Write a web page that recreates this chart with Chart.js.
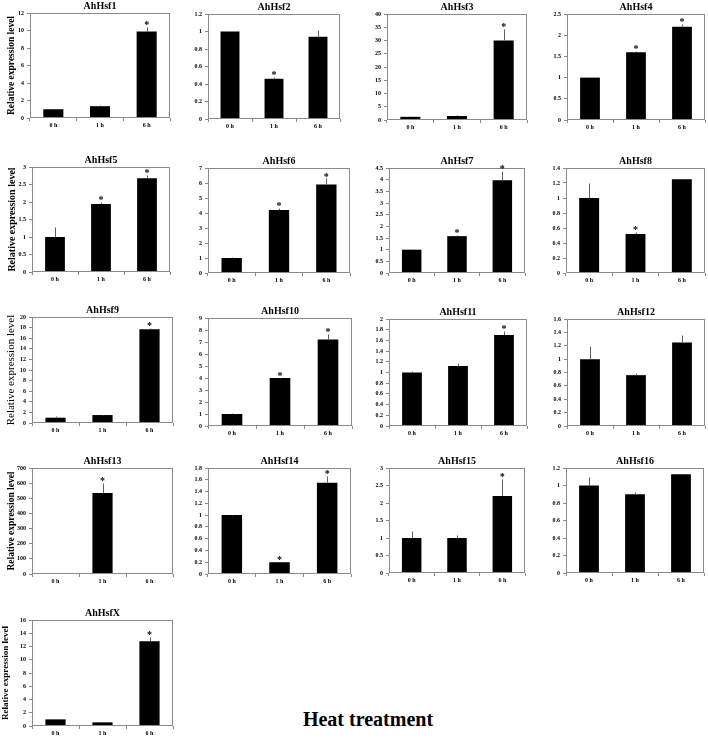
<!DOCTYPE html>
<html><head><meta charset="utf-8">
<script src="https://cdn.jsdelivr.net/npm/chart.js@4/dist/chart.umd.min.js"></script>
<style>
html,body{margin:0;padding:0;background:#fff;overflow:hidden;width:708px;height:738px;position:relative;}
.p{position:absolute;}
#xt{position:absolute;left:0;width:736px;text-align:center;top:708px;font:bold 20px "Liberation Serif","Times New Roman",serif;color:#000;}
</style></head><body>
<div id="xt">Heat treatment</div>
<script>
// ---------- data ----------
const timePoints = ["0 h", "1 h", "6 h"];
const geneNames = ["AhHsf1","AhHsf2","AhHsf3","AhHsf4","AhHsf5","AhHsf6","AhHsf7","AhHsf8","AhHsf9","AhHsf10","AhHsf11","AhHsf12","AhHsf13","AhHsf14","AhHsf15","AhHsf16","AhHsfX"];

const hsf1Mean = [1.0, 1.35, 9.9];   const hsf1Err = [0.05, 0.1, 0.5];   const hsf1Sig = [0,0,1];
const hsf2Mean = [1.0, 0.46, 0.94];  const hsf2Err = [0.01, 0.02, 0.08]; const hsf2Sig = [0,1,0];
const hsf3Mean = [1.2, 1.5, 30];     const hsf3Err = [0.4, 0.3, 4.2];    const hsf3Sig = [0,0,1];
const hsf4Mean = [1.0, 1.6, 2.2];    const hsf4Err = [0.01, 0.02, 0.07]; const hsf4Sig = [0,1,1];
const hsf5Mean = [1.0, 1.94, 2.68];  const hsf5Err = [0.3, 0.07, 0.08];  const hsf5Sig = [0,1,1];
const hsf6Mean = [1.0, 4.2, 5.9];    const hsf6Err = [0.1, 0.15, 0.4];   const hsf6Sig = [0,1,1];
const hsf7Mean = [1.0, 1.58, 3.97];  const hsf7Err = [0.03, 0.04, 0.4];  const hsf7Sig = [0,1,1];
const hsf8Mean = [1.0, 0.52, 1.25];  const hsf8Err = [0.2, 0.03, 0.005]; const hsf8Sig = [0,1,0];
const hsf9Mean = [1.0, 1.5, 17.7];   const hsf9Err = [0.3, 0.1, 0.3];    const hsf9Sig = [0,0,1];
const hsf10Mean = [1.0, 4.0, 7.2];   const hsf10Err = [0.1, 0.02, 0.45]; const hsf10Sig = [0,1,1];
const hsf11Mean = [1.0, 1.12, 1.7];  const hsf11Err = [0.03, 0.05, 0.08];const hsf11Sig = [0,0,1];
const hsf12Mean = [1.0, 0.76, 1.25]; const hsf12Err = [0.2, 0.04, 0.11]; const hsf12Sig = [0,0,0];
const hsf13Mean = [1, 535, 4];       const hsf13Err = [0, 68, 0];        const hsf13Sig = [0,1,0];
const hsf14Mean = [1.0, 0.2, 1.55];  const hsf14Err = [0.005, 0.005, 0.11]; const hsf14Sig = [0,1,1];
const hsf15Mean = [1.0, 1.0, 2.2];   const hsf15Err = [0.2, 0.1, 0.5];   const hsf15Sig = [0,0,1];
const hsf16Mean = [1.0, 0.9, 1.13];  const hsf16Err = [0.1, 0.03, 0.005];const hsf16Sig = [0,0,0];
const hsfXMean = [1.0, 0.55, 12.8];  const hsfXErr = [0.05, 0.1, 0.7];   const hsfXSig = [0,0,1];

const yMax  = [12, 1.2, 40, 2.5, 3, 7, 4.5, 1.4, 20, 9, 2, 1.6, 700, 1.8, 3, 1.2, 16];
const yStep = [2, 0.2, 5, 0.5, 0.5, 1, 0.5, 0.2, 2, 1, 0.2, 0.2, 100, 0.2, 0.5, 0.2, 2];

const meanList = [hsf1Mean,hsf2Mean,hsf3Mean,hsf4Mean,hsf5Mean,hsf6Mean,hsf7Mean,hsf8Mean,hsf9Mean,hsf10Mean,hsf11Mean,hsf12Mean,hsf13Mean,hsf14Mean,hsf15Mean,hsf16Mean,hsfXMean];
const errList = [hsf1Err,hsf2Err,hsf3Err,hsf4Err,hsf5Err,hsf6Err,hsf7Err,hsf8Err,hsf9Err,hsf10Err,hsf11Err,hsf12Err,hsf13Err,hsf14Err,hsf15Err,hsf16Err,hsfXErr];
const sigList = [hsf1Sig,hsf2Sig,hsf3Sig,hsf4Sig,hsf5Sig,hsf6Sig,hsf7Sig,hsf8Sig,hsf9Sig,hsf10Sig,hsf11Sig,hsf12Sig,hsf13Sig,hsf14Sig,hsf15Sig,hsf16Sig,hsfXSig];

const yTitleText = "Relative expression level";
const xTitleText = "Heat treatment";

// ---------- layout (plot-area boxes: left, top, right, bottom) ----------
const plotBoxes = [
  [30,13,170,118],[208,14,340,119],[387,14,527,120],[567,14,705,120],
  [32,167,170,272],[208,168,350,273],[389,168,525,273],[566,168,705,273],
  [32,317,173,423],[208,318,352,426],[389,319,527,426],[567,319,705,426],
  [32,468,173,574],[208,468,351,574],[389,468,525,573],[566,468,704,573],
  [32,620,173,726]
];
// y-title styling per row (first column only)
const yTitleStyle = {0:[9.5,'bold',6],4:[10,'bold',6],8:[11,'normal',5],12:[9.5,'bold',6],16:[9,'bold',0]};

const SERIF = '"Liberation Serif","Times New Roman",serif';
const PAD_T = 16, PAD_R = 2, PAD_B = 14, PAD_L = 28;

const decor = {
  id: 'decor',
  afterDatasetsDraw(chart, args, opts) {
    const {ctx, chartArea: a, scales: {y}} = chart;
    ctx.save();
    // frame
    ctx.strokeStyle = '#8a8a8a'; ctx.lineWidth = 1;
    ctx.strokeRect(Math.round(a.left) + 0.5, Math.round(a.top) + 0.5,
                   Math.round(a.right - a.left) - 1, Math.round(a.bottom - a.top) - 1);
    const meta = chart.getDatasetMeta(0);
    const vals = chart.data.datasets[0].data;
    vals.forEach((v, i) => {
      const bar = meta.data[i];
      const xp = Math.round(bar.x) + 0.5;
      const yTop = y.getPixelForValue(v + opts.err[i]);
      if (opts.err[i] > 0) {
        ctx.strokeStyle = '#606060'; ctx.lineWidth = 1;
        ctx.beginPath(); ctx.moveTo(xp, y.getPixelForValue(v)); ctx.lineTo(xp, Math.round(yTop) + 0.5); ctx.stroke();
      }
      if (opts.sig[i]) {
        ctx.fillStyle = '#000';
        ctx.font = 'bold 10px ' + SERIF;
        ctx.textAlign = 'center'; ctx.textBaseline = 'alphabetic';
        ctx.fillText('*', bar.x, yTop + 1);
      }
    });
    // panel title
    ctx.fillStyle = '#000';
    ctx.font = 'bold 10px ' + SERIF;
    ctx.textAlign = 'center'; ctx.textBaseline = 'middle';
    ctx.fillText(opts.title, (a.left + a.right) / 2, a.top - 7);
    ctx.restore();
  }
};

function fmt(v) { return String(+(+v).toFixed(2)); }

geneNames.forEach((name, k) => {
  const [L, T, R, B] = plotBoxes[k];
  const firstCol = (k % 4 === 0);
  const padL = firstCol ? L : PAD_L;
  const left = L - padL, top = T - PAD_T;
  const w = (R - L) + padL + PAD_R, h = (B - T) + PAD_T + PAD_B;
  const div = document.createElement('div');
  div.className = 'p';
  div.style.left = left + 'px'; div.style.top = top + 'px';
  div.style.width = w + 'px'; div.style.height = h + 'px';
  const cv = document.createElement('canvas');
  cv.width = w; cv.height = h; cv.style.width = w + 'px'; cv.style.height = h + 'px';
  div.appendChild(cv); document.body.appendChild(div);

  const ts = yTitleStyle[k];
  new Chart(cv, {
    type: 'bar',
    data: {
      labels: timePoints,
      datasets: [{ data: meanList[k], backgroundColor: '#000', borderColor: '#000', borderWidth: 0,
                   barPercentage: 0.43, categoryPercentage: 1.0 }]
    },
    options: {
      responsive: false, animation: false, devicePixelRatio: 1,
      layout: { padding: { top: PAD_T, right: PAD_R, left: 0, bottom: 0 } },
      plugins: { legend: { display: false }, tooltip: { enabled: false },
                 decor: { err: errList[k], sig: sigList[k], title: name } },
      scales: {
        x: {
          offset: true,
          grid: { display: true, offset: true, drawOnChartArea: false, drawTicks: true, tickLength: 3, color: '#8a8a8a' },
          border: { display: false },
          ticks: { autoSkip: false, maxRotation: 0, padding: 1, color: '#000', font: { family: SERIF, size: 6, weight: 'bold' } },
          afterFit: s => { s.height = PAD_B; }
        },
        y: {
          min: 0, max: yMax[k],
          grid: { display: true, drawOnChartArea: false, drawTicks: true, tickLength: 3, color: '#8a8a8a' },
          border: { display: false },
          ticks: { stepSize: yStep[k], padding: 3, color: '#000', callback: fmt, font: { family: SERIF, size: 6, weight: 'bold' } },
          title: ts ? { display: true, text: yTitleText, color: '#000', padding: { top: ts[2], bottom: 0 },
                        font: { family: SERIF, size: ts[0], weight: ts[1] } } : { display: false },
          afterFit: s => { s.width = padL; }
        }
      }
    },
    plugins: [decor]
  });
});
</script>
</body></html>
